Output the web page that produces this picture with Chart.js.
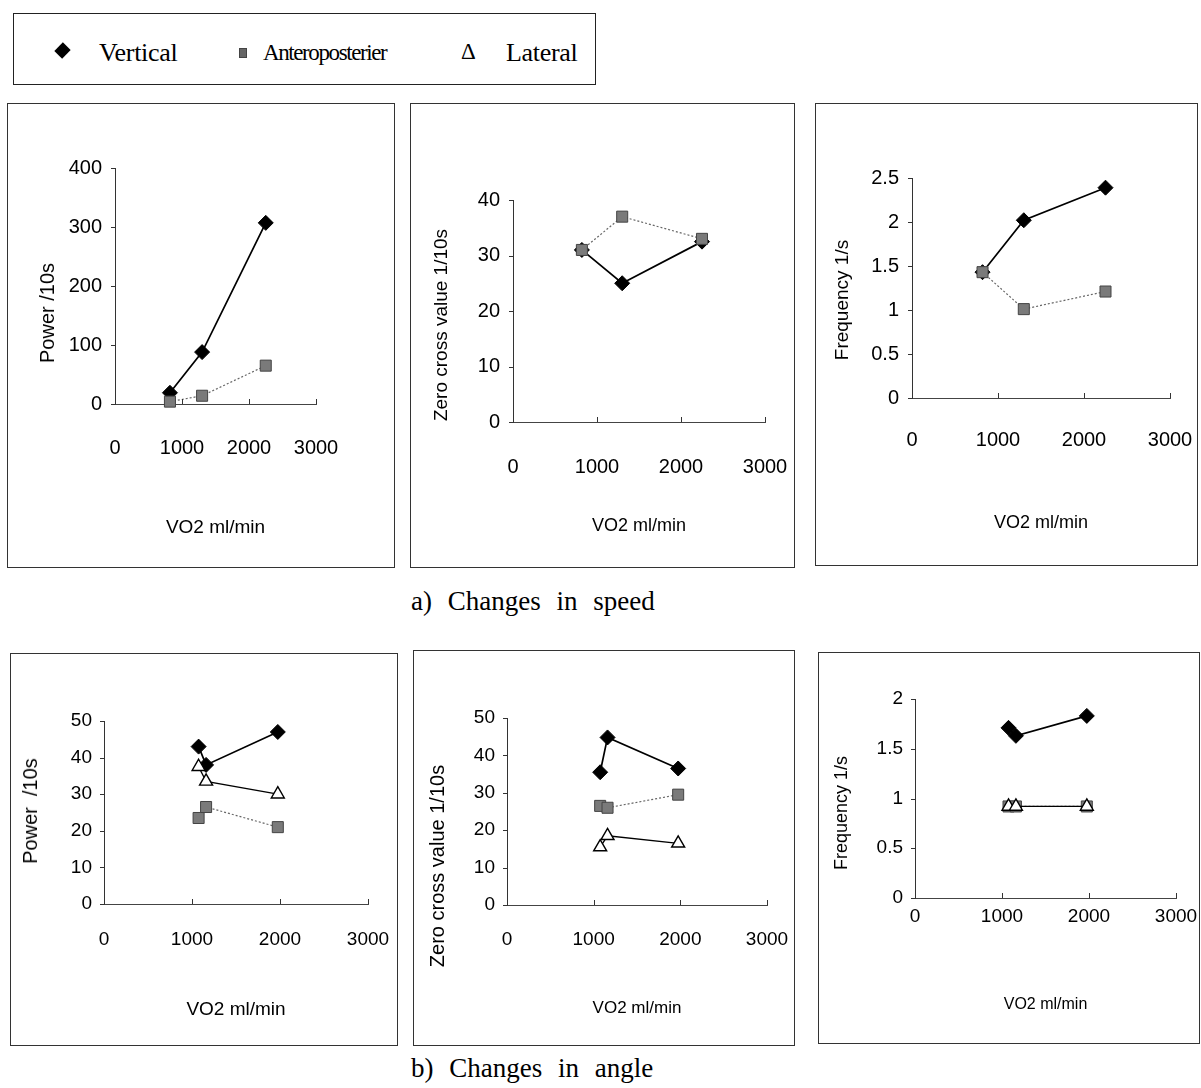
<!DOCTYPE html>
<html><head><meta charset="utf-8">
<script src="https://cdn.jsdelivr.net/npm/chart.js@4.4.1/dist/chart.umd.min.js"></script>
<style>
body{margin:0;background:#fff;width:1201px;height:1088px;position:relative;overflow:hidden;font-family:"Liberation Serif","Times New Roman",serif;color:#000;}
.panel{position:absolute;border:1px solid #333;box-sizing:border-box;}
.panel canvas{position:absolute;left:-1px;top:-1px;}
#legend{position:absolute;left:13px;top:13px;width:583px;height:72px;border:1px solid #222;box-sizing:border-box;}
#legend span{position:absolute;top:22px;line-height:34px;font-size:26px;white-space:pre;}
.cap{position:absolute;font-size:27px;white-space:pre;line-height:32px;word-spacing:9px;}
.ytitle{position:absolute;white-space:pre;font-family:"Liberation Sans",Arial,sans-serif;line-height:1;transform:translate(-50%,-50%) rotate(-90deg);z-index:2;}
</style></head>
<body>
<div id="legend">
  <div style="position:absolute;left:43px;top:31px;width:11px;height:11px;background:#000;transform:rotate(45deg) scale(1,1.1);"></div>
  <span style="left:85px;letter-spacing:-0.3px;">Vertical</span>
  <div style="position:absolute;left:225px;top:34px;width:8px;height:10px;background:#666;border:1px solid #444;box-sizing:border-box;"></div>
  <span style="left:249px;font-size:23px;letter-spacing:-1.4px;">Anteroposterier</span>
  <span style="left:447px;font-size:23px;top:21px;">Δ</span>
  <span style="left:492px;letter-spacing:-0.3px;">Lateral</span>
</div>
<div class="cap" style="left:411px;top:585px;">a) Changes in speed</div>
<div class="cap" style="left:411px;top:1052px;">b) Changes in angle</div>
<script>
// ---------- DATA ----------
const seriesNames = ['Vertical', 'Anteroposterier', 'Lateral'];
const xTickValues = [0, 1000, 2000, 3000];
const xTitle = 'VO2 ml/min';

// a) Changes in speed
const speedVO2 = [820, 1300, 2250];
const speedPowerVertical = [19, 88, 307];
const speedPowerAntero = [4, 14, 65];
const speedZeroVertical = [31, 25, 32.5];
const speedZeroAntero = [31, 37, 33];
const speedFreqVertical = [1.43, 2.02, 2.39];
const speedFreqAntero = [1.43, 1.01, 1.21];

// b) Changes in angle
const angleVO2 = [1075, 1160, 1975];
const anglePowerVertical = [43, 38, 47];
const anglePowerAntero = [23.5, 26.5, 21];
const anglePowerLateral = [37.5, 33.5, 30];
const angleZeroVertical = [35.5, 44.8, 36.5];
const angleZeroAntero = [26.5, 26, 29.5];
const angleZeroLateral = [15.5, 18.5, 16.5];
const angleFreqVertical = [1.71, 1.63, 1.83];
const angleFreqAntero = [0.92, 0.92, 0.92];
const angleFreqLateral = [0.92, 0.92, 0.92];

const powerSpeedTicks = [0, 100, 200, 300, 400];
const zeroSpeedTicks = [0, 10, 20, 30, 40];
const freqSpeedTicks = [0, 0.5, 1, 1.5, 2, 2.5];
const powerAngleTicks = [0, 10, 20, 30, 40, 50];
const zeroAngleTicks = [0, 10, 20, 30, 40, 50];
const freqAngleTicks = [0, 0.5, 1, 1.5, 2];

const yTitles = ['Power /10s', 'Zero cross value 1/10s', 'Frequency 1/s'];

// ---------- STYLES ----------
const sans = "'Liberation Sans',Arial,sans-serif";

function pts(xs, ys){ return xs.map((x,i)=>({x:x, y:ys[i]})); }

const styleV = {pointStyle:'rectRot', pointRadius:7.5, backgroundColor:'#000', borderColor:'#000', borderWidth:1.7, pointBorderWidth:1};
const styleA = {pointStyle:'rect', pointRadius:7.8, backgroundColor:'#7a7a7a', borderColor:'#666', borderWidth:1.2, borderDash:[2,2], pointBorderColor:'#444', pointBorderWidth:1};
const styleL = {pointStyle:'triangle', pointRadius:7.5, backgroundColor:'#fff', borderColor:'#000', borderWidth:1.3, pointBorderWidth:1.4};

function ds(name, xs, ys, st){
  return Object.assign({label:name, data:pts(xs, ys), clip:false, tension:0}, st);
}

// geometry relative to each panel box; title centres are absolute page coordinates
const panels = [
  {box:{x:7,y:103,w:388,h:465}, area:{l:108,r:309,t:65,b:301}, yTicks:powerSpeedTicks, yTitle:yTitles[0],
   yt:{x:47,y:313,fs:20}, xly:345, xty:425, ylPad:13, fs:20, tfs:19},
  {box:{x:410,y:103,w:385,h:465}, area:{l:103,r:355,t:97,b:319}, yTicks:zeroSpeedTicks, yTitle:yTitles[1],
   yt:{x:440,y:325,fs:19}, xly:364, xty:423, ylPad:13, fs:20, tfs:18},
  {box:{x:815,y:103,w:383,h:463}, area:{l:97,r:355,t:75,b:295}, yTicks:freqSpeedTicks, yTitle:yTitles[2],
   yt:{x:841,y:300,fs:19}, xly:337, xty:420, ylPad:13, fs:20, tfs:18},
  {box:{x:10,y:653,w:388,h:393}, area:{l:94,r:358,t:68,b:251}, yTicks:powerAngleTicks, yTitle:'Power  /10s',
   yt:{x:30,y:811,fs:20}, xly:287, xty:357, ylPad:12, fs:19, tfs:19},
  {box:{x:413,y:650,w:382,h:396}, area:{l:94,r:354,t:68,b:255}, yTicks:zeroAngleTicks, yTitle:yTitles[1],
   yt:{x:437,y:866,fs:20}, xly:290, xty:358, ylPad:12, fs:19, tfs:17},
  {box:{x:818,y:652,w:382,h:392}, area:{l:97,r:358,t:47,b:246}, yTicks:freqAngleTicks, yTitle:yTitles[2],
   yt:{x:841,y:813,fs:18}, xly:265, xty:353, ylPad:12, fs:19, tfs:16}
];
panels[0].sets = [ds(seriesNames[1], speedVO2, speedPowerAntero, styleA), ds(seriesNames[0], speedVO2, speedPowerVertical, styleV)];
panels[1].sets = [ds(seriesNames[1], speedVO2, speedZeroAntero, styleA), ds(seriesNames[0], speedVO2, speedZeroVertical, styleV)];
panels[2].sets = [ds(seriesNames[1], speedVO2, speedFreqAntero, styleA), ds(seriesNames[0], speedVO2, speedFreqVertical, styleV)];
panels[3].sets = [ds(seriesNames[2], angleVO2, anglePowerLateral, styleL), ds(seriesNames[1], angleVO2, anglePowerAntero, styleA), ds(seriesNames[0], angleVO2, anglePowerVertical, styleV)];
panels[4].sets = [ds(seriesNames[2], angleVO2, angleZeroLateral, styleL), ds(seriesNames[1], angleVO2, angleZeroAntero, styleA), ds(seriesNames[0], angleVO2, angleZeroVertical, styleV)];
panels[5].sets = [ds(seriesNames[2], angleVO2, angleFreqLateral, styleL), ds(seriesNames[1], angleVO2, angleFreqAntero, styleA), ds(seriesNames[0], angleVO2, angleFreqVertical, styleV)];

const tickMarks = {
  id:'tickMarks',
  afterDatasetsDraw(chart){
    const ctx = chart.ctx, xs = chart.scales.x, ys = chart.scales.y;
    ctx.save(); ctx.strokeStyle = '#333'; ctx.lineWidth = 1;
    ys.ticks.forEach(t => { const y = Math.round(ys.getPixelForValue(t.value)) + 0.5;
      ctx.beginPath(); ctx.moveTo(ys.right - 4, y); ctx.lineTo(ys.right, y); ctx.stroke(); });
    xs.ticks.forEach(t => { if (t.value === 0) return; const x = Math.round(xs.getPixelForValue(t.value)) + 0.5;
      ctx.beginPath(); ctx.moveTo(x, xs.top); ctx.lineTo(x, xs.top - 5); ctx.stroke(); });
    ctx.restore();
  }
};

panels.forEach(p => {
  const div = document.createElement('div');
  div.className = 'panel';
  Object.assign(div.style, {left:p.box.x+'px', top:p.box.y+'px', width:p.box.w+'px', height:p.box.h+'px'});
  const cv = document.createElement('canvas');
  cv.width = p.box.w; cv.height = p.box.h;
  cv.style.width = p.box.w + 'px'; cv.style.height = p.box.h + 'px';
  div.appendChild(cv); document.body.appendChild(div);

  const yt = document.createElement('div');
  yt.className = 'ytitle';
  yt.textContent = p.yTitle;
  Object.assign(yt.style, {left:p.yt.x+'px', top:p.yt.y+'px', fontSize:p.yt.fs+'px'});
  document.body.appendChild(yt);

  const lh = 1.2;
  const tickFont = {family:sans, size:p.fs, lineHeight:lh};
  const titleFont = {family:sans, size:p.tfs, lineHeight:lh};
  const yVals = p.yTicks;
  new Chart(cv, {
    type:'line',
    data:{datasets:p.sets},
    options:{
      responsive:false, animation:false, devicePixelRatio:1,
      layout:{padding:{left:0, top:p.area.t, right:p.box.w - p.area.r, bottom:0}},
      plugins:{legend:{display:false}, tooltip:{enabled:false}},
      elements:{line:{tension:0}},
      scales:{
        x:{type:'linear', min:0, max:3000,
           afterBuildTicks:s => { s.ticks = xTickValues.map(v => ({value:v})); },
           afterFit:s => { s.height = p.box.h - p.area.b; s.paddingLeft = 0; s.paddingRight = 0; },
           grid:{display:false, drawTicks:false},
           border:{display:true, color:'#444', width:1},
           ticks:{font:tickFont, color:'#000', padding:p.xly - p.area.b - p.fs*lh/2, maxRotation:0, autoSkip:false,
                  callback:v => String(v)},
           title:{display:true, text:xTitle, font:titleFont, color:'#000',
                  padding:{top:0, bottom:p.box.h - p.xty - p.tfs*lh/2}}},
        y:{type:'linear', min:yVals[0], max:yVals[yVals.length-1],
           afterBuildTicks:s => { s.ticks = yVals.map(v => ({value:v})); },
           afterFit:s => { s.width = p.area.l; s.paddingTop = 0; s.paddingBottom = 0; },
           grid:{display:false, drawTicks:false},
           border:{display:true, color:'#333', width:1},
           ticks:{font:tickFont, color:'#000', padding:p.ylPad, autoSkip:false, callback:v => String(v)},
           title:{display:false}}
      }
    },
    plugins:[tickMarks]
  });
});
</script>
</body></html>
